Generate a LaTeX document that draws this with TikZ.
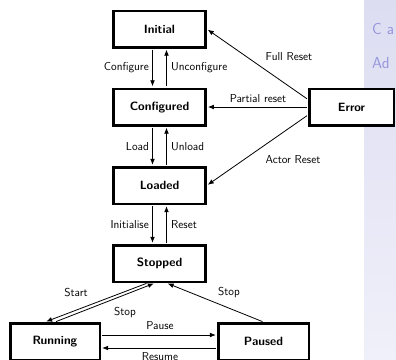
\documentclass[tikz,border=0pt]{standalone}
\usetikzlibrary{arrows.meta}
\definecolor{paneltop}{RGB}{221,221,242}
\definecolor{panelbot}{RGB}{240,240,250}
\definecolor{paneltext}{RGB}{150,150,222}
\begin{document}
\begin{tikzpicture}[x=1pt,y=-1pt,
  state/.style={draw, line width=2.5pt, fill=white, minimum width=92pt,
    minimum height=36.5pt, inner sep=0pt,
    font=\sffamily\bfseries\fontsize{12}{14}\selectfont},
  lbl/.style={font=\sffamily\fontsize{11.5}{14}\selectfont, inner sep=0pt},
  paneltxt/.style={font=\sffamily\fontsize{16}{19}\selectfont, text=paneltext, inner sep=0pt, anchor=west},
  conn/.style={line width=0.8pt, -{Latex[length=6pt,width=4.8pt]},
    shorten >=1.2pt, shorten <=1.2pt}]
\useasboundingbox (0,0) rectangle (396,359);
\clip (0,0) rectangle (396,359);
% side panel
\shade[top color=paneltop, bottom color=panelbot] (364,0) rectangle (396,359);
\node[paneltxt] (pa) at (372,29) {C a};
\node[paneltxt] (pb) at (372,63) {Ad};
% states
\node[state] (Initial) at (159.5,29) {Initial};
\node[state] (Configured) at (159.5,107) {Configured};
\node[state] (Loaded) at (159.5,185.5) {Loaded};
\node[state] (Stopped) at (159.5,263.5) {Stopped};
\node[state, minimum width=84.5pt] (Error) at (351.5,107) {Error};
\node[state, minimum width=89.5pt] (Running) at (55,341.5) {Running};
\node[state, minimum width=90.5pt] (Paused) at (263.5,341.5) {Paused};
% vertical transitions
\draw[conn] ([xshift=-7pt]Initial.south) -- ([xshift=-7pt]Configured.north);
\draw[conn] ([xshift=7pt]Configured.north) -- ([xshift=7pt]Initial.south);
\draw[conn] ([xshift=-7pt]Configured.south) -- ([xshift=-7pt]Loaded.north);
\draw[conn] ([xshift=7pt]Loaded.north) -- ([xshift=7pt]Configured.south);
\draw[conn] ([xshift=-7pt]Loaded.south) -- ([xshift=-7pt]Stopped.north);
\draw[conn] ([xshift=7pt]Stopped.north) -- ([xshift=7pt]Loaded.south);
\node[lbl, anchor=east] (lConfigure) at (149,68) {Configure};
\node[lbl, anchor=west] (lUnconfigure) at (171,68) {Unconfigure};
\node[lbl, anchor=east] (lLoad) at (149,146.5) {Load};
\node[lbl, anchor=west] (lUnload) at (171,146.5) {Unload};
\node[lbl, anchor=east] (lInitialise) at (149,225) {Initialise};
\node[lbl, anchor=west] (lReset) at (171,225) {Reset};
% error transitions
\draw[conn] ([yshift=7.5pt]Error.west) -- (Initial.east);
\draw[conn] (Error.west) -- (Configured.east);
\draw[conn] ([yshift=-8pt]Error.west) -- (Loaded.east);
\node[lbl] (lFull) at (289,57) {Full Reset};
\node[lbl] (lPartial) at (258,99) {Partial reset};
\node[lbl] (lActor) at (293,160) {Actor Reset};
% lower transitions
\draw[conn] ([xshift=-12pt]Stopped.south) -- ([xshift=-10pt]Running.north);
\draw[conn] (Running.north) -- ([xshift=-4.5pt]Stopped.south);
\draw[conn] (Paused.north) -- ([xshift=7pt]Stopped.south);
\draw[conn] ([yshift=6.5pt]Running.east) -- ([yshift=6.5pt]Paused.west);
\draw[conn] ([yshift=-6.5pt]Paused.west) -- ([yshift=-6.5pt]Running.east);
\node[lbl] (lStart) at (76,293) {Start};
\node[lbl] (lStopR) at (125,312) {Stop};
\node[lbl] (lStopP) at (229,292) {Stop};
\node[lbl] (lPause) at (160,326) {Pause};
\node[lbl, anchor=north] (lResume) at (160,352) {Resume};
\end{tikzpicture}
\end{document}
